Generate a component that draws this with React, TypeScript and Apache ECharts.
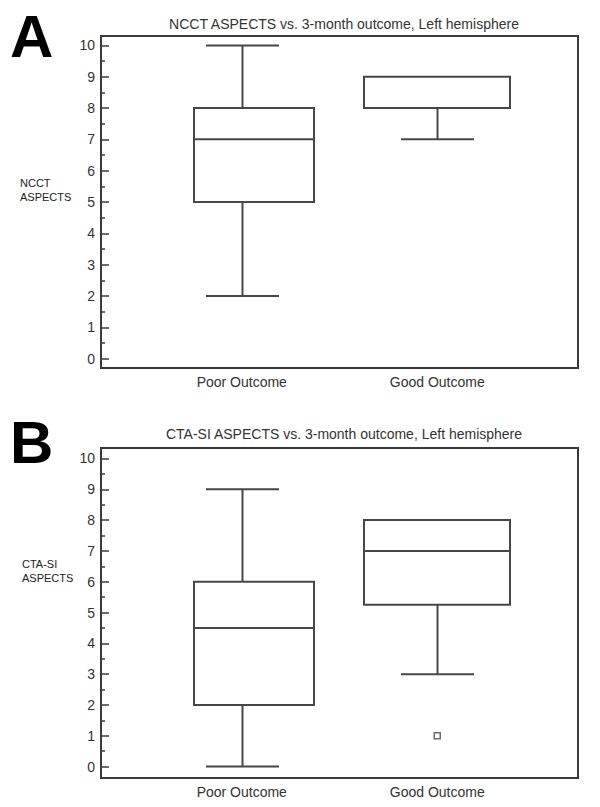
import React, { useEffect, useRef } from "react";
import * as echarts from "echarts";

// ---- data ----
const categories = ["Poor Outcome", "Good Outcome"];

// Panel A: NCCT ASPECTS
const ncctWhiskerLow = [2, 7];
const ncctQ1 = [5, 8];
const ncctMedian = [7, 8];
const ncctQ3 = [8, 9];
const ncctWhiskerHigh = [10, 9];

// Panel B: CTA-SI ASPECTS
const ctaWhiskerLow = [0, 3];
const ctaQ1 = [2, 5.25];
const ctaMedian = [4.5, 7];
const ctaQ3 = [6, 8];
const ctaWhiskerHigh = [9, 8];
const ctaOutlierCategory = ["Good Outcome"];
const ctaOutlierValue = [1];

const yTickValues = [0, 1, 2, 3, 4, 5, 6, 7, 8, 9, 10];
const yMinorTickValues = [0.5, 1.5, 2.5, 3.5, 4.5, 5.5, 6.5, 7.5, 8.5, 9.5];

// ---- styles ----
const LINE = "#474747";
const FRAME = "#3a3a3a";
const TEXT = "#333333";
const FONT = "'Liberation Sans', Arial, sans-serif";
const BOX_LEFT_PX = [48.5, 73.5];
const BOX_RIGHT_PX = [71.5, 72.5];
const CAP_HALF_PX = 36.5;

function buildRows(lo: number[], q1: number[], med: number[], q3: number[], hi: number[]) {
  return categories.map((_, i) => [i + 1, lo[i], q1[i], med[i], q3[i], hi[i]]);
}

function renderBox(params: any, api: any) {
  const idx = params.dataIndex;
  const x = api.value(0);
  const lo = api.value(1);
  const q1 = api.value(2);
  const med = api.value(3);
  const q3 = api.value(4);
  const hi = api.value(5);
  const pLo = api.coord([x, lo]);
  const pQ1 = api.coord([x, q1]);
  const pMed = api.coord([x, med]);
  const pQ3 = api.coord([x, q3]);
  const pHi = api.coord([x, hi]);
  const cx = Math.round(pLo[0]) + 0.5;
  const bl = cx - BOX_LEFT_PX[idx];
  const br = cx + BOX_RIGHT_PX[idx];
  const ls = { stroke: LINE, lineWidth: 2, fill: "none" };
  const children: any[] = [];
  if (lo < q1) {
    children.push({ type: "line", shape: { x1: cx, y1: pLo[1], x2: cx, y2: pQ1[1] }, style: ls });
    children.push({ type: "line", shape: { x1: cx - CAP_HALF_PX, y1: pLo[1], x2: cx + CAP_HALF_PX, y2: pLo[1] }, style: ls });
  }
  if (hi > q3) {
    children.push({ type: "line", shape: { x1: cx, y1: pQ3[1], x2: cx, y2: pHi[1] }, style: ls });
    children.push({ type: "line", shape: { x1: cx - CAP_HALF_PX, y1: pHi[1], x2: cx + CAP_HALF_PX, y2: pHi[1] }, style: ls });
  }
  children.push({
    type: "rect",
    shape: { x: bl, y: pQ3[1], width: br - bl, height: pQ1[1] - pQ3[1] },
    style: ls,
  });
  children.push({ type: "line", shape: { x1: bl, y1: pMed[1], x2: br, y2: pMed[1] }, style: ls });
  return { type: "group", children };
}

function xAxisFor(gridIndex: number) {
  return {
    type: "value",
    gridIndex,
    min: 0.28,
    max: 2.72,
    axisLine: { show: false },
    axisTick: { show: false },
    splitLine: { show: false },
    axisLabel: {
      customValues: [1, 2],
      formatter: (v: number) => categories[Math.round(v) - 1] ?? "",
      color: TEXT,
      fontSize: 14,
      fontFamily: FONT,
      margin: 7,
    },
  };
}

function yAxesFor(gridIndex: number, min: number, max: number) {
  return [
    {
      type: "value",
      gridIndex,
      position: "left",
      min,
      max,
      axisLine: { show: false },
      splitLine: { show: false },
      axisTick: {
        show: true,
        inside: true,
        length: 8,
        customValues: yTickValues,
        lineStyle: { color: FRAME, width: 1.5 },
      },
      axisLabel: {
        customValues: yTickValues,
        color: TEXT,
        fontSize: 14,
        fontFamily: FONT,
        margin: 6,
      },
    },
    {
      type: "value",
      gridIndex,
      position: "left",
      offset: 0,
      min,
      max,
      axisLine: { show: false },
      splitLine: { show: false },
      axisLabel: { show: false },
      axisTick: {
        show: true,
        inside: true,
        length: 4,
        customValues: yMinorTickValues,
        lineStyle: { color: FRAME, width: 1.5 },
      },
    },
  ];
}

export default function App() {
  const ref = useRef<HTMLDivElement>(null);
  useEffect(() => {
    document.body.style.margin = "0";
    if (!ref.current) return;
    const chart = echarts.init(ref.current, undefined, { renderer: "svg" });
    const gridBase = { show: true, borderColor: FRAME, borderWidth: 2, backgroundColor: "transparent" };
    const option: any = {
      animation: false,
      backgroundColor: "#ffffff",
      title: [
        {
          text: "NCCT ASPECTS vs. 3-month outcome, Left hemisphere",
          left: 339,
          top: 12,
          textAlign: "center",
          textStyle: { fontSize: 14, fontWeight: "normal", color: TEXT, fontFamily: FONT },
        },
        {
          text: "CTA-SI ASPECTS vs. 3-month outcome, Left hemisphere",
          left: 339,
          top: 422,
          textAlign: "center",
          textStyle: { fontSize: 14, fontWeight: "normal", color: TEXT, fontFamily: FONT },
        },
      ],
      grid: [
        { ...gridBase, left: 101, top: 36, width: 477, height: 332 },
        { ...gridBase, left: 101, top: 448, width: 477, height: 330 },
      ],
      xAxis: [xAxisFor(0), xAxisFor(1)],
      yAxis: [...yAxesFor(0, -0.3, 10.3), ...yAxesFor(1, -0.37, 10.34)],
      graphic: [
        { type: "text", left: 10, top: 6, style: { text: "A", fontSize: 60, fontWeight: "bold", fill: "#000", fontFamily: FONT } },
        { type: "text", left: 10, top: 412, style: { text: "B", fontSize: 60, fontWeight: "bold", fill: "#000", fontFamily: FONT } },
        { type: "text", left: 20, top: 176, style: { text: "NCCT\nASPECTS", fontSize: 11, lineHeight: 14, fill: "#222", fontFamily: FONT } },
        { type: "text", left: 22, top: 557, style: { text: "CTA-SI\nASPECTS", fontSize: 11, lineHeight: 14, fill: "#222", fontFamily: FONT } },
      ],
      series: [
        {
          type: "custom",
          xAxisIndex: 0,
          yAxisIndex: 0,
          renderItem: renderBox,
          encode: { x: 0, y: [1, 2, 3, 4, 5] },
          data: buildRows(ncctWhiskerLow, ncctQ1, ncctMedian, ncctQ3, ncctWhiskerHigh),
          silent: true,
        },
        {
          type: "custom",
          xAxisIndex: 1,
          yAxisIndex: 2,
          renderItem: renderBox,
          encode: { x: 0, y: [1, 2, 3, 4, 5] },
          data: buildRows(ctaWhiskerLow, ctaQ1, ctaMedian, ctaQ3, ctaWhiskerHigh),
          silent: true,
        },
        {
          type: "scatter",
          xAxisIndex: 1,
          yAxisIndex: 2,
          symbol: "rect",
          symbolSize: 6,
          itemStyle: { color: "#ffffff", borderColor: LINE, borderWidth: 1.5 },
          data: ctaOutlierCategory.map((c, i) => [categories.indexOf(c) + 1, ctaOutlierValue[i]]),
          silent: true,
        },
      ],
    };
    chart.setOption(option);
    return () => chart.dispose();
  }, []);
  return <div ref={ref} style={{ position: "absolute", left: 0, top: 0, width: 600, height: 807 }} />;
}
